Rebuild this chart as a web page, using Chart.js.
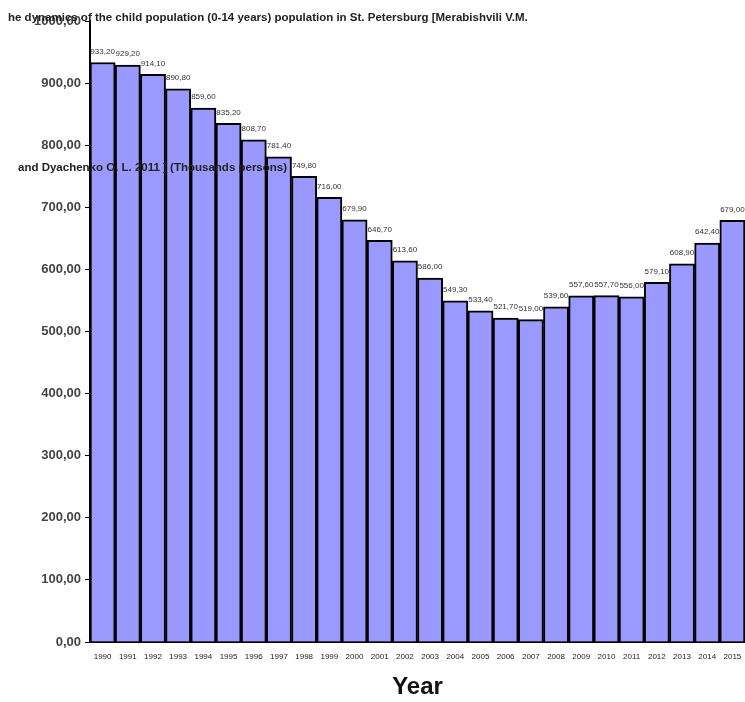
<!DOCTYPE html>
<html>
<head>
<meta charset="utf-8">
<script src="https://cdn.jsdelivr.net/npm/chart.js@4"></script>
<style>
    html, body { margin: 0; padding: 0; background: #fff; }
</style>
</head>
<body>
<canvas id="popChart" width="745" height="702"></canvas>
<script>
const years = ['1990', '1991', '1992', '1993', '1994', '1995', '1996', '1997', '1998', '1999', '2000', '2001', '2002',
    '2003', '2004', '2005', '2006', '2007', '2008', '2009', '2010', '2011', '2012', '2013', '2014', '2015'];
const childPopulation = [933.2, 929.2, 914.1, 890.8, 859.6, 835.2, 808.7, 781.4, 749.8, 716.0, 679.9, 646.7, 613.6,
    586.0, 549.3, 533.4, 521.7, 519.0, 539.6, 557.6, 557.7, 556.0, 579.1, 608.9, 642.4, 679.0];
const titleLines = [
    'he dynamics of the child population (0-14 years) population in St. Petersburg [Merabishvili V.M.',
    'and Dyachenko O. L. 2011 ] (Thousands persons)'
];
const yTicks = { min: 0, max: 1000, step: 100 };

function fmt(v) {
    return v.toFixed(2).replace('.', ',');
}

// value labels above bars + the title lines drawn over the chart, like the original
const overlayText = {
    id: 'overlayText',
    afterDatasetsDraw(chart) {
        const ctx = chart.ctx;
        const meta = chart.getDatasetMeta(0);
        ctx.save();
        ctx.font = '8px Arial, "Liberation Sans", sans-serif';
        ctx.fillStyle = '#333';
        ctx.textAlign = 'center';
        ctx.textBaseline = 'bottom';
        meta.data.forEach((bar, i) => {
            ctx.fillText(fmt(childPopulation[i]), bar.x, bar.y - 7);
        });
        ctx.restore();
    },
    afterDraw(chart) {
        const ctx = chart.ctx;
        ctx.save();
        ctx.font = 'bold 11.5px Arial, "Liberation Sans", sans-serif';
        ctx.fillStyle = '#222';
        ctx.textAlign = 'left';
        ctx.textBaseline = 'middle';
        ctx.fillText(titleLines[0], 8, 18);
        ctx.fillText(titleLines[1], 18, 168);
        ctx.restore();
    }
};

const ctx = document.getElementById('popChart').getContext('2d');
const popChart = new Chart(ctx, {
    type: 'bar',
    data: {
        labels: years,
        datasets: [{
            data: childPopulation,
            backgroundColor: '#9999ff',
            borderColor: '#000',
            borderWidth: 2,
            barPercentage: 1,
            categoryPercentage: 1
        }]
    },
    options: {
        responsive: false,
        animation: false,
        layout: { padding: { top: 21, right: 0, left: 0, bottom: 0 } },
        plugins: {
            legend: { display: false },
            tooltip: { enabled: false }
        },
        scales: {
            y: {
                min: yTicks.min,
                max: yTicks.max,
                afterFit(scale) { scale.width = 90; },
                border: { color: '#000', width: 2 },
                grid: { drawOnChartArea: false, tickLength: 5, color: '#000' },
                ticks: {
                    stepSize: yTicks.step,
                    color: '#444',
                    font: { family: 'Arial, "Liberation Sans", sans-serif', size: 13, weight: 'bold' },
                    padding: 4,
                    callback: function(value) { return fmt(value); }
                }
            },
            x: {
                afterFit(scale) { scale.height = 60; },
                border: { color: '#000', width: 2 },
                grid: { display: false },
                ticks: {
                    color: '#222',
                    font: { family: 'Arial, "Liberation Sans", sans-serif', size: 8 },
                    maxRotation: 0,
                    autoSkip: false,
                    padding: 2
                },
                title: {
                    display: true,
                    text: 'Year',
                    color: '#111',
                    font: { family: 'Arial, "Liberation Sans", sans-serif', size: 24, weight: 'bold' },
                    padding: { top: 18, bottom: 0 }
                }
            }
        }
    },
    plugins: [overlayText]
});
</script>
</body>
</html>
